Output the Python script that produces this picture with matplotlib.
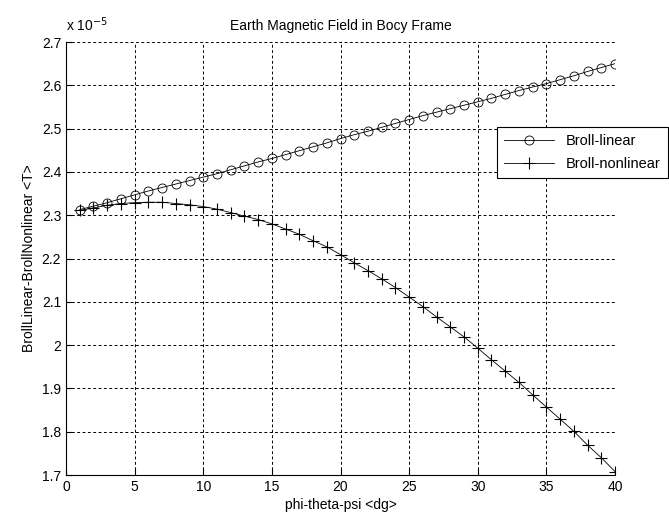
import matplotlib
matplotlib.use("Agg")
import matplotlib.pyplot as plt
from matplotlib.ticker import FuncFormatter

plt.rcParams['font.family'] = ['Liberation Sans', 'DejaVu Sans']

# angle sweep <dg>
angle = list(range(1, 41))

# field values, in units of 1e-5 T
b_linear = [2.313, 2.321, 2.329, 2.338, 2.347, 2.356, 2.364, 2.372, 2.380, 2.388,
            2.396, 2.405, 2.414, 2.423, 2.431, 2.440, 2.449, 2.458, 2.467, 2.477,
            2.486, 2.494, 2.503, 2.512, 2.521, 2.530, 2.538, 2.546, 2.554, 2.562,
            2.570, 2.579, 2.588, 2.596, 2.604, 2.613, 2.622, 2.632, 2.641, 2.650]
b_nonlinear = [2.311, 2.317, 2.323, 2.327, 2.329, 2.330, 2.330, 2.327, 2.324, 2.320,
               2.314, 2.306, 2.298, 2.290, 2.280, 2.268, 2.256, 2.241, 2.227, 2.209,
               2.190, 2.172, 2.153, 2.133, 2.111, 2.089, 2.065, 2.042, 2.019, 1.993,
               1.966, 1.940, 1.914, 1.885, 1.857, 1.829, 1.801, 1.769, 1.740, 1.708]
y_ticks = [1.7, 1.8, 1.9, 2.0, 2.1, 2.2, 2.3, 2.4, 2.5, 2.6, 2.7]

scale = 1e-5
y_lin = [v * scale for v in b_linear]
y_non = [v * scale for v in b_nonlinear]

fig = plt.figure(figsize=(6.69, 5.2), dpi=100)
ax = fig.add_axes([0.0987, 0.0865, 0.8206, 0.8327])

ax.plot(angle, y_lin, color='black', linewidth=0.6, marker='o', markersize=6.5,
        markerfacecolor='none', markeredgewidth=0.6, label='Broll-linear')
ax.plot(angle, y_non, color='black', linewidth=0.6, marker='+', markersize=8.5,
        markeredgewidth=0.8, label='Broll-nonlinear')

ax.set_xlim(0, 40)
ax.set_ylim(1.7e-5, 2.7e-5)
ax.set_xticks(range(0, 41, 5))
ax.set_yticks([v * scale for v in y_ticks])
# MATLAB style labels: "2" not "2.0", exponent shown above the axis
ax.yaxis.set_major_formatter(FuncFormatter(lambda v, pos: f"{round(v / scale, 3):g}"))
ax.text(0.0, 1.018, r"x 10$^{-5}$", transform=ax.transAxes, fontsize=10,
        ha='left', va='bottom')

ax.grid(True, color='black', linestyle=(0, (3, 2.5)), linewidth=0.7)
ax.spines['top'].set_visible(False)
ax.spines['right'].set_visible(False)
ax.tick_params(direction='in', length=4, labelsize=10, colors='black')

ax.set_title("Earth Magnetic Field in Bocy Frame", fontsize=10, pad=9)
ax.set_xlabel("phi-theta-psi <dg>", fontsize=10, labelpad=3)
ax.set_ylabel("BrollLinear-BrollNonlinear <T>", fontsize=10)

leg = ax.legend(loc='upper left', bbox_to_anchor=(0.785, 0.804), fontsize=10.5,
                frameon=True, fancybox=False, framealpha=1, edgecolor='black',
                borderaxespad=0, handlelength=3.4, borderpad=0.5, labelspacing=0.6)
leg.get_frame().set_linewidth(0.8)

fig.savefig("out.png", dpi=100)
